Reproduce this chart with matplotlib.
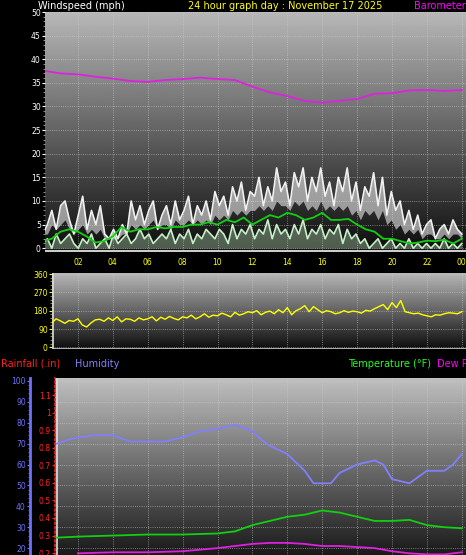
import numpy as np
import matplotlib
matplotlib.use("Agg")
import matplotlib.pyplot as plt

# ---------------- data ----------------
baro_h = [0,1,2,3,4,5,6,7,8,9,10,11,12,13,14,15,16,17,18,19,20,21,22,23,24]
baro = [37.6,37.0,36.8,36.3,35.9,35.4,35.2,35.6,35.8,36.1,35.8,35.6,34.2,33.0,32.2,31.2,30.8,31.2,31.6,32.7,32.8,33.4,33.5,33.3,33.5]

gust = [3,5,8,4,9,10,6,3,7,11,4,8,5,9,3,2,4,2,5,3,10,6,9,5,8,10,4,7,9,5,10,6,
        8,11,5,9,7,10,6,12,9,11,7,13,10,14,8,12,11,15,9,13,10,17,12,14,9,16,13,17,10,15,12,17,
        11,14,9,15,12,17,10,14,8,13,11,16,9,15,7,12,8,10,5,8,4,7,3,5,6,2,4,5,3,6,4,3]
gust_low = [3,3,5,4,5,6,4,3,4,5,3,4,3,4,2,2,2,2,3,3,5,4,5,4,5,6,4,5,5,4,6,5,
            5,6,5,6,5,6,5,7,6,7,6,8,7,8,7,8,8,9,8,9,8,10,9,9,8,10,9,10,8,9,8,10,
            8,9,8,9,8,9,7,8,6,8,7,8,6,8,5,6,4,5,3,4,3,4,2,3,3,2,2,3,2,3,3,2]
avg = [1.5,2.0,3.5,4.0,3.5,2.5,1.2,1.5,2.5,4.5,3.5,4.0,4.0,4.5,4.2,4.5,4.5,5.0,5.0,5.5,5.0,6.0,5.5,6.5,
       5.0,6.0,7.0,6.5,7.5,7.0,6.0,6.5,7.5,6.0,6.0,6.2,5.0,4.0,3.5,2.0,2.0,1.5,1.0,1.2,1.6,1.5,1.8,1.0,2.0]
speed = [1,2,0,3,1,2,3,1,0,2,1,3,0,1,2,0,3,1,2,3,1,2,4,2,3,1,2,3,2,4,1,3,
         2,4,1,3,2,4,3,2,4,3,1,5,2,4,3,5,2,4,3,6,2,5,3,4,2,5,3,6,2,4,3,5,
         2,4,3,5,1,4,2,3,1,2,0,1,2,0,1,2,0,1,0,2,0,1,0,1,0,1,0,2,0,1,0,1]

wdir = [125,135,120,140,130,118,132,128,140,110,100,120,135,138,128,145,132,150,125,140,138,128,145,135,
        140,150,130,148,138,152,142,135,150,145,158,140,150,165,148,158,155,168,160,150,172,158,165,175,
        170,180,160,172,178,165,185,170,195,160,180,190,205,175,200,185,170,180,175,165,170,180,172,178,
        175,168,182,178,190,200,210,185,220,195,230,175,170,165,168,160,155,150,160,158,165,170,168,165,175]

hum_h = [0.8,1.5,2,3,3.5,4,5,6,7,8,9,10,11,12,12.5,13,14,15,15.5,16,16.5,17,18,19,19.5,20,21,21.5,22,23,23.5,24]
hum = [70,72,73,74,74,74,71,71,71,73,76,77,79,76,72,69,65,57,51,51,51,56,60,62,60,53,51,54,57,57,60,65]
temp_h = [0.8,2,4,6,8,10,11,12,13,14,15,16,17,18,19,20,21,22,23,24]
temp = [25,25.5,26,26.5,26.5,27,28,31,33,35,36,38,37,35,33,33,33.5,31,30,29.5]
dew_h = [2,4,6,8,10,11,12,13,14,15,16,17,18,19,20,21,22,23,24]
dew = [17.5,18,18,18.5,20,21,22,22.5,22.5,22,21,21,20.5,20,18.5,17.5,17,17,18]

hour_ticks = [2,4,6,8,10,12,14,16,18,20,22,24]
hour_labels = ["02","04","06","08","10","12","14","16","18","20","22","00"]

W, H = 466, 555
fig = plt.figure(figsize=(W/100, H/100), dpi=100, facecolor="black")

def axrect(x0, y0, x1, y1):
    return fig.add_axes([x0/W, 1-y1/H, (x1-x0)/W, (y1-y0)/H])

def gradient(ax, top, bottom):
    g = np.linspace(top, bottom, 256).reshape(-1, 1)
    ax.imshow(g, aspect="auto", cmap="gray", vmin=0, vmax=1,
              extent=[0, 1, 0, 1], transform=ax.transAxes, zorder=0, origin="upper")

def style(ax, col):
    ax.set_facecolor("black")
    for s in ax.spines.values():
        s.set_visible(False)
    ax.tick_params(colors=col, labelsize=5.5, length=2, pad=1)
    ax.grid(True, color="#d0d0d0", linestyle=":", linewidth=0.6, alpha=0.7)

H_PER_PX = 1/17.45
def hx(px):
    return (px-43)*H_PER_PX

# ---------- panel 1 ----------
ax1 = axrect(45, 12, 466, 252)
style(ax1, "white")
gradient(ax1, 0.72, 0.05)
ax1.set_xlim(hx(45), hx(466))
ax1.set_ylim(-0.8, 50)
ax1.set_yticks(range(0, 51, 5))
ax1.set_yticks(range(0, 51, 1), minor=True)
ax1.tick_params(axis="y", which="minor", length=1.5, colors="#aaaaaa")
ax1.set_xticks(hour_ticks)
ax1.set_xticklabels(hour_labels)
ax1.tick_params(axis="x", colors="yellow", length=0, pad=4)
tg = np.linspace(0, 24, len(gust))
ax1.fill_between(tg, gust_low, gust, color="#e8e8e8", alpha=0.6, lw=0, zorder=2)
ax1.plot(tg, gust, color="#f0f0f0", lw=1.2, zorder=3)
ts = np.linspace(0, 24, len(speed))
ax1.fill_between(ts, 0, speed, color="#c8f0c8", alpha=0.35, lw=0, zorder=3)
ax1.plot(ts, speed, color="#c8f0c8", lw=1.2, zorder=4)
ta = np.linspace(0, 24, len(avg))
ax1.plot(ta, avg, color="#10d010", lw=1.3, zorder=5)
ax1.plot(baro_h, baro, color="#e020e0", lw=1.3, zorder=5)
ax1.axhline(-0.6, color="#cccccc", lw=1.5, zorder=6)

fig.text(38/W, 1-6/H, "Windspeed (mph)", color="white", fontsize=7, va="center")
fig.text(285/W, 1-6/H, "24 hour graph day : November 17 2025", color="yellow", fontsize=7, va="center", ha="center")
fig.text(414/W, 1-6/H, "Barometer", color="#ff00ff", fontsize=7, va="center")

# ---------- panel 2 ----------
ax2 = axrect(52, 273, 466, 349)
style(ax2, "yellow")
gradient(ax2, 0.72, 0.05)
ax2.set_xlim(hx(52), hx(466))
ax2.set_ylim(-8, 365)
ax2.set_yticks([0, 90, 180, 270, 360])
ax2.set_yticks(range(0, 361, 18), minor=True)
ax2.tick_params(axis="y", which="minor", length=1.5, colors="#b0b000")
ax2.set_xticks(hour_ticks)
ax2.tick_params(axis="x", labelbottom=False, length=0)
ax2.axvline(hx(53), color="#dddddd", lw=1.2)
ax2.axhline(-6, color="#cccccc", lw=1.2)
tw = np.linspace(0, 24, len(wdir))
ax2.plot(tw, wdir, color="yellow", lw=1.0, zorder=3)

fig.text(1/W, 1-364/H, "Rainfall (.in)", color="#ff2020", fontsize=7, va="center")
fig.text(75/W, 1-364/H, "Humidity", color="#8080ff", fontsize=7, va="center")
fig.text(348/W, 1-364/H, "Temperature (°F)", color="#20ff20", fontsize=7, va="center")
fig.text(437/W, 1-364/H, "Dew Point", color="#ff00ff", fontsize=7, va="center")

# ---------- panel 3 ----------
ax3 = axrect(55, 378, 466, 555)
style(ax3, "#7070ff")
gradient(ax3, 0.75, 0.1)
ax3.set_xlim(hx(55), hx(466))
ax3.set_ylim(16.7, 101.4)
ax3.set_yticks(range(20, 101, 10))
ax3.set_yticks(range(20, 101, 2), minor=True)
ax3.tick_params(axis="y", which="minor", length=1.5, colors="#7070ff")
ax3.spines["left"].set_visible(True)
ax3.spines["left"].set_position(("outward", 18))
ax3.spines["left"].set_color("#7070ff")
ax3.spines["left"].set_linewidth(2)
ax3.set_xticks(hour_ticks)
ax3.tick_params(axis="x", labelbottom=False, length=0)
ax3.axvline(hx(57), color="#dddddd", lw=1.2)
ax3.plot(hum_h, hum, color="#8080ff", lw=1.3, zorder=4)
ax3.plot(temp_h, temp, color="#10d010", lw=1.3, zorder=4)
ax3.plot(dew_h, dew, color="#e020e0", lw=1.3, zorder=4)

ax4 = ax3.twinx()
ax4.set_ylim(0.189, 1.197)
ax4.yaxis.set_ticks_position("left")
ax4.yaxis.set_label_position("left")
for s in ax4.spines.values():
    s.set_visible(False)
ax4.spines["left"].set_visible(True)
ax4.spines["left"].set_color("#ff2020")
ax4.spines["left"].set_linestyle(":")
ax4.spines["left"].set_linewidth(1.2)
ax4.set_yticks([0.2,0.3,0.4,0.5,0.6,0.7,0.8,0.9,1.0,1.1])
ax4.set_yticklabels(["0.2","0.3","0.4","0.5","0.6","0.7","0.8","0.9","1","1.1"])
ax4.set_yticks(np.arange(0.2, 1.19, 0.02), minor=True)
ax4.tick_params(axis="y", colors="#ff2020", labelsize=5.5, length=2, pad=1)
ax4.tick_params(axis="y", which="minor", length=1.5)

fig.savefig("out.png", dpi=100, facecolor="black")
